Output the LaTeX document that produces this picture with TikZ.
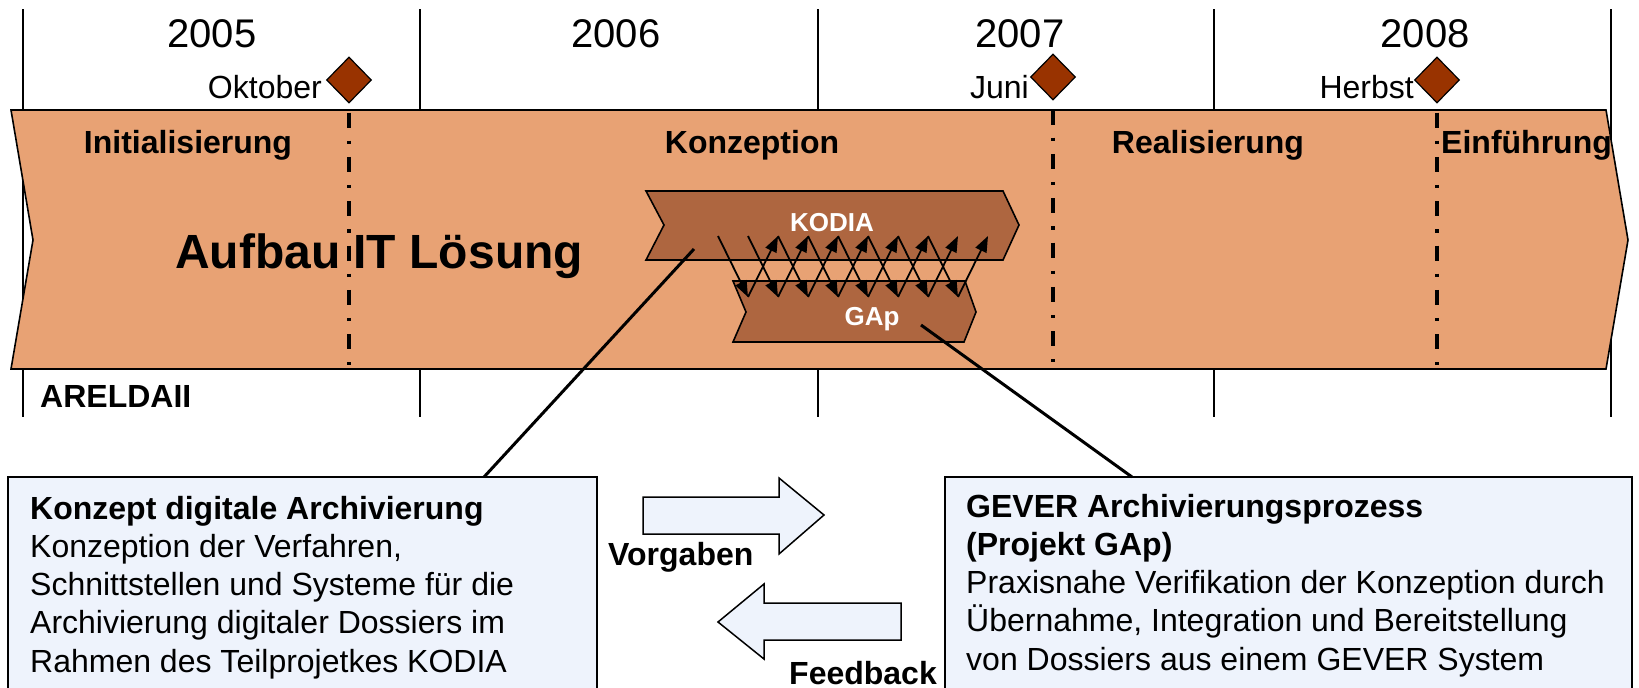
\documentclass[tikz,border=0pt]{standalone}
\usepackage{fontspec}
\setmainfont{Liberation Sans}
\usetikzlibrary{shapes.geometric,arrows.meta}

\definecolor{phasefill}{HTML}{E8A274}
\definecolor{subfill}{HTML}{AE6640}
\definecolor{milefill}{HTML}{993300}
\definecolor{notefill}{HTML}{EEF3FC}

\tikzset{
  gridline/.style={line width=1.5pt},
  chevron/.style={draw, line width=1.6pt, line join=miter},
  milestone/.style={diamond, draw, fill=milefill, line width=1.2pt, aspect=1,
    minimum width=45pt, minimum height=46pt, inner sep=0pt},
  msline/.style={line width=3.2pt, dash pattern=on 15pt off 13pt on 3.3pt off 13pt, dash phase=-9pt},
  year/.style={font=\fontsize{40}{48}\selectfont, anchor=base, inner sep=0pt},
  msname/.style={font=\fontsize{32}{38}\selectfont, anchor=base east, inner sep=0pt},
  phase/.style={font=\bfseries\fontsize{32}{38}\selectfont, anchor=base, inner sep=0pt},
  subname/.style={text=white, font=\bfseries\fontsize{26}{30}\selectfont, anchor=base, inner sep=0pt},
  note/.style={font=\fontsize{32}{38.25}\selectfont, align=left, anchor=base west, inner sep=0pt},
  notebox/.style={draw, fill=notefill, line width=1.6pt},
  blockarrow/.style={draw, fill=notefill, line width=1.5pt, line join=miter},
  callout/.style={line width=3pt},
  link/.style={line width=1.8pt, -{Triangle[length=16pt,width=12pt]}}
}

\begin{document}
\begin{tikzpicture}[x=1pt, y=-1pt]
  \clip (0,0) rectangle (1639,688);

  % years
  \foreach \x in {23,420,818,1214,1611}
    \draw[gridline] (\x,9) -- (\x,417);
  \node[year] (y2005) at (212,47) {2005};
  \node[year] (y2006) at (616,47) {2006};
  \node[year] (y2007) at (1020,47) {2007};
  \node[year] (y2008) at (1425,47) {2008};

  % main phase arrow
  \draw[chevron, fill=phasefill] (11,110) -- (1606,110) -- (1628,240) -- (1606,369)
    -- (11,369) -- (33,240) -- cycle;
  \node[phase] (init) at (188,153) {Initialisierung};
  \node[phase] (konz) at (752,153) {Konzeption};
  \node[phase] (real) at (1208,153) {Realisierung};
  \node[phase, anchor=base west] (einf) at (1441,153) {Einführung};
  \node[phase, font=\bfseries\fontsize{48}{56}\selectfont] (aufbau) at (379,268) {Aufbau IT Lösung};
  \node[phase, anchor=base west] (areldaii) at (40,407) {ARELDAII};

  % sub projects
  \draw[chevron, fill=subfill] (646,191) -- (1003,191) -- (1019,225) -- (1003,260)
    -- (646,260) -- (664,225) -- cycle;
  \draw[chevron, fill=subfill] (733,281) -- (965,281) -- (976,312) -- (964,342)
    -- (733,342) -- (746,312) -- cycle;
  \node[subname] (kodia) at (832,231) {KODIA};
  \node[subname] (gap) at (872,325) {GAp};
  \foreach \i in {0,...,7} {
    \draw[link] (718+30*\i,236) -- (748+30*\i,297);
    \draw[link] (748+30*\i,297) -- (778+30*\i,236);
  }

  % milestones
  \node[milestone] (okt) at (349,80) {};
  \node[milestone] (jun) at (1053,77) {};
  \node[milestone] (herbst) at (1437,80) {};
  \node[msname] (oktlabel) at (322,98) {Oktober};
  \node[msname] (junlabel) at (1029,98) {Juni};
  \node[msname] (herbstlabel) at (1414,98) {Herbst};
  \coordinate (oktend) at (349,375);
  \coordinate (junend) at (1053,366);
  \coordinate (herbstend) at (1437,370);
  \draw[msline] (okt.south) -- (oktend);
  \draw[msline] (jun.south) -- (junend);
  \draw[msline] (herbst.south) -- (herbstend);

  % notes
  \draw[notebox] (8,477) rectangle (597,700);
  \draw[notebox] (945,477) rectangle (1632,700);
  \node[note] (conceptnote) at (30,672) {\textbf{Konzept digitale Archivierung}\\
    Konzeption der Verfahren,\\
    Schnittstellen und Systeme für die\\
    Archivierung digitaler Dossiers im\\
    Rahmen des Teilprojetkes KODIA};
  \node[note] (gapnote) at (966,670) {\textbf{GEVER Archivierungsprozess}\\
    \textbf{(Projekt GAp)}\\
    Praxisnahe Verifikation der Konzeption durch\\
    Übernahme, Integration und Bereitstellung\\
    von Dossiers aus einem GEVER System};
  \coordinate (kodiaref) at (694,249);
  \coordinate (conceptpin) at (484,477);
  \coordinate (gapref) at (921,325);
  \coordinate (gappin) at (1132,477);
  \draw[callout] (kodiaref) -- (conceptpin);
  \draw[callout] (gapref) -- (gappin);

  % exchange
  \draw[blockarrow] (643,497) -- (779,497) -- (779,478) -- (824,515) -- (779,554)
    -- (779,534) -- (643,534) -- cycle;
  \draw[blockarrow] (901,603) -- (764,603) -- (764,584) -- (718,622) -- (764,659)
    -- (764,640) -- (901,640) -- cycle;
  \node[phase, anchor=base west] (vorgaben) at (608,565) {Vorgaben};
  \node[phase, anchor=base west] (feedback) at (789,684) {Feedback};
\end{tikzpicture}
\end{document}
